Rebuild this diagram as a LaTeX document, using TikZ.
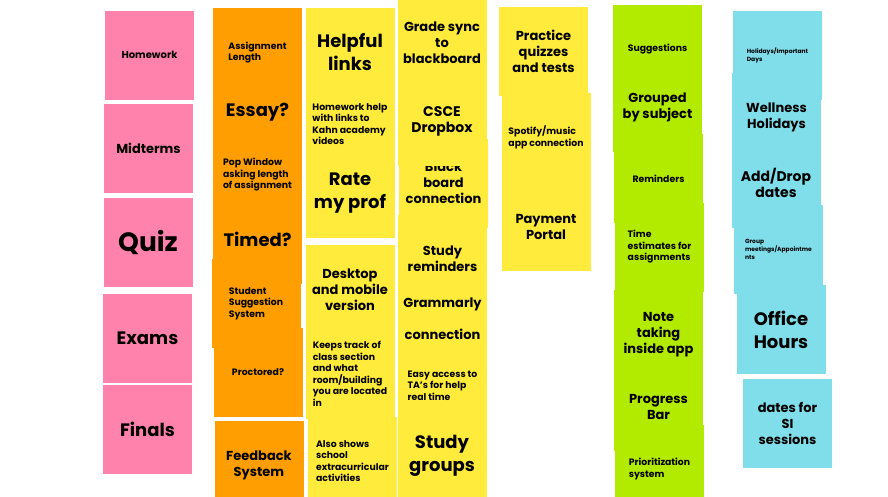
\documentclass[tikz,border=0pt]{standalone}
\usepackage{fontspec}
\setmainfont{Poppins}
\definecolor{pinkc}{HTML}{FF82AC}
\definecolor{orangec}{HTML}{FF9E00}
\definecolor{yellowc}{HTML}{FFEB3B}
\definecolor{greenc}{HTML}{B3EB00}
\definecolor{cyanc}{HTML}{80DEEA}
\begin{document}
\begin{tikzpicture}[
    x=1pt, y=-1pt,
    note/.style={minimum width=89pt, minimum height=89pt, inner sep=0pt, align=center, font=\bfseries},
    pinknote/.style={note, fill=pinkc},
    orangenote/.style={note, fill=orangec},
    yellownote/.style={note, fill=yellowc},
    greennote/.style={note, fill=greenc},
    cyannote/.style={note, fill=cyanc},
    tinytxt/.style={font=\bfseries\fontsize{6}{8}\selectfont, align=left},
    smalltxt/.style={font=\bfseries\fontsize{9.3}{11.5}\selectfont},
    midtxt/.style={font=\bfseries\fontsize{13}{16}\selectfont},
    bigtxt/.style={font=\bfseries\fontsize{18}{23}\selectfont},
    hugetxt/.style={font=\bfseries\fontsize{26.5}{30}\selectfont}
]
\useasboundingbox (0,0) rectangle (888,496);
\clip (0,0) rectangle (888,496);
% Pink column
\node[pinknote, smalltxt, font=\bfseries\fontsize{10}{12}\selectfont] (homework) at (149.5,55) {Homework};
\node[pinknote, midtxt] (midterms) at (148.5,148.5) {Midterms};
\node[pinknote, hugetxt] (quiz) at (148,242) {Quiz};
\node[pinknote, bigtxt] (exams) at (147.5,338) {Exams};
\node[pinknote, bigtxt] (finals) at (147.5,429) {Finals};
% Orange column
\node[orangenote, smalltxt, align=left] (asglen) at (257.5,52.5) {Assignment\\Length};
\node[orangenote, bigtxt] (essay) at (257.5,112.5) {Essay?};
\node[orangenote, smalltxt, align=left] (popwin) at (257.5,175) {Pop Window\\asking length\\of assignment};
\node[orangenote, bigtxt] (timed) at (257.5,239.5) {Timed?};
\node[orangenote, smalltxt, align=left] (suggsys) at (256,303.5) {Student\\Suggestion\\System};
\node[orangenote, smalltxt] (proctored) at (258,372.5) {Proctored?};
\node[orangenote, midtxt] (feedback) at (259,465) {Feedback\\System};
% Yellow column, left
\node[yellownote, bigtxt] (helpful) at (350,52) {Helpful\\links};
\node[yellownote, smalltxt, align=left] (hwhelp) at (350,124) {Homework help\\with links to\\Kahn academy\\videos};
\node[yellownote, bigtxt] (rateprof) at (350,193) {Rate\\my prof};
\node[yellownote, midtxt] (desktop) at (350,289.5) {Desktop\\and mobile\\version};
\node[yellownote, smalltxt, align=left] (keepstrack) at (350,374) {Keeps track of\\class section\\and what\\room/building\\you are located\\in};
\node[yellownote, smalltxt, align=left] (alsoshows) at (352.5,461) {Also shows\\school\\extracurricular\\activities};
% Yellow column, middle
\node[yellownote, midtxt] (gradesync) at (442,43) {Grade sync\\to\\blackboard};
\node[yellownote, midtxt] (bbconn) at (443.5,183) {Black\\board\\connection};
\node[yellownote, bigtxt, font=\bfseries\fontsize{14}{16}\selectfont] (csce) at (442,121.5) {CSCE\\Dropbox};
\node[yellownote, midtxt] (studyrem) at (442.5,259) {Study\\reminders};
\node[yellownote, midtxt] (grammarly) at (442.5,319) {Grammarly\\[16pt]connection};
\node[yellownote, smalltxt, align=left] (easyaccess) at (442.5,385.5) {Easy access to\\TA's for help\\real time};
\node[yellownote, bigtxt] (studygroups) at (442,455.5) {Study\\groups};
% Yellow column, right
\node[yellownote, midtxt] (practice) at (543.5,51.5) {Practice\\quizzes\\and tests};
\node[yellownote, smalltxt, align=left] (spotify) at (546,137.5) {Spotify/music\\app connection};
\node[yellownote, midtxt] (payment) at (546,226.5) {Payment\\Portal};
% Green column
\node[greennote, smalltxt] (suggestions) at (657.5,49.5) {Suggestions};
\node[greennote, midtxt] (grouped) at (657.5,107.5) {Grouped\\by subject};
\node[greennote, smalltxt] (reminders) at (658.5,178.5) {Reminders};
\node[greennote, smalltxt, align=left] (timeest) at (659.5,247) {Time\\estimates for\\assignments};
\node[greennote, midtxt] (notetaking) at (658.5,334.5) {Note\\taking\\inside app};
\node[greennote, midtxt] (progress) at (658.5,406.5) {Progress\\Bar};
\node[greennote, smalltxt, align=left] (prioritize) at (659.5,469) {Prioritization\\system};
% Cyan column
\node[cyannote, tinytxt] (holidays) at (777.5,55.5) {Holidays/Important\\Days};
\node[cyannote, midtxt] (wellness) at (776.5,117.5) {Wellness\\Holidays};
\node[cyannote, midtxt, font=\bfseries\fontsize{14}{16}\selectfont] (adddrop) at (776,183) {Add/Drop\\dates};
\node[cyannote, tinytxt] (groupmeet) at (778.5,249) {Group\\meetings/Appointme\\nts};
\node[cyannote, bigtxt] (officehours) at (781,329.5) {Office\\Hours};
\node[cyannote, midtxt] (sidates) at (787.5,423.5) {dates for\\SI\\sessions};
\end{tikzpicture}
\end{document}
